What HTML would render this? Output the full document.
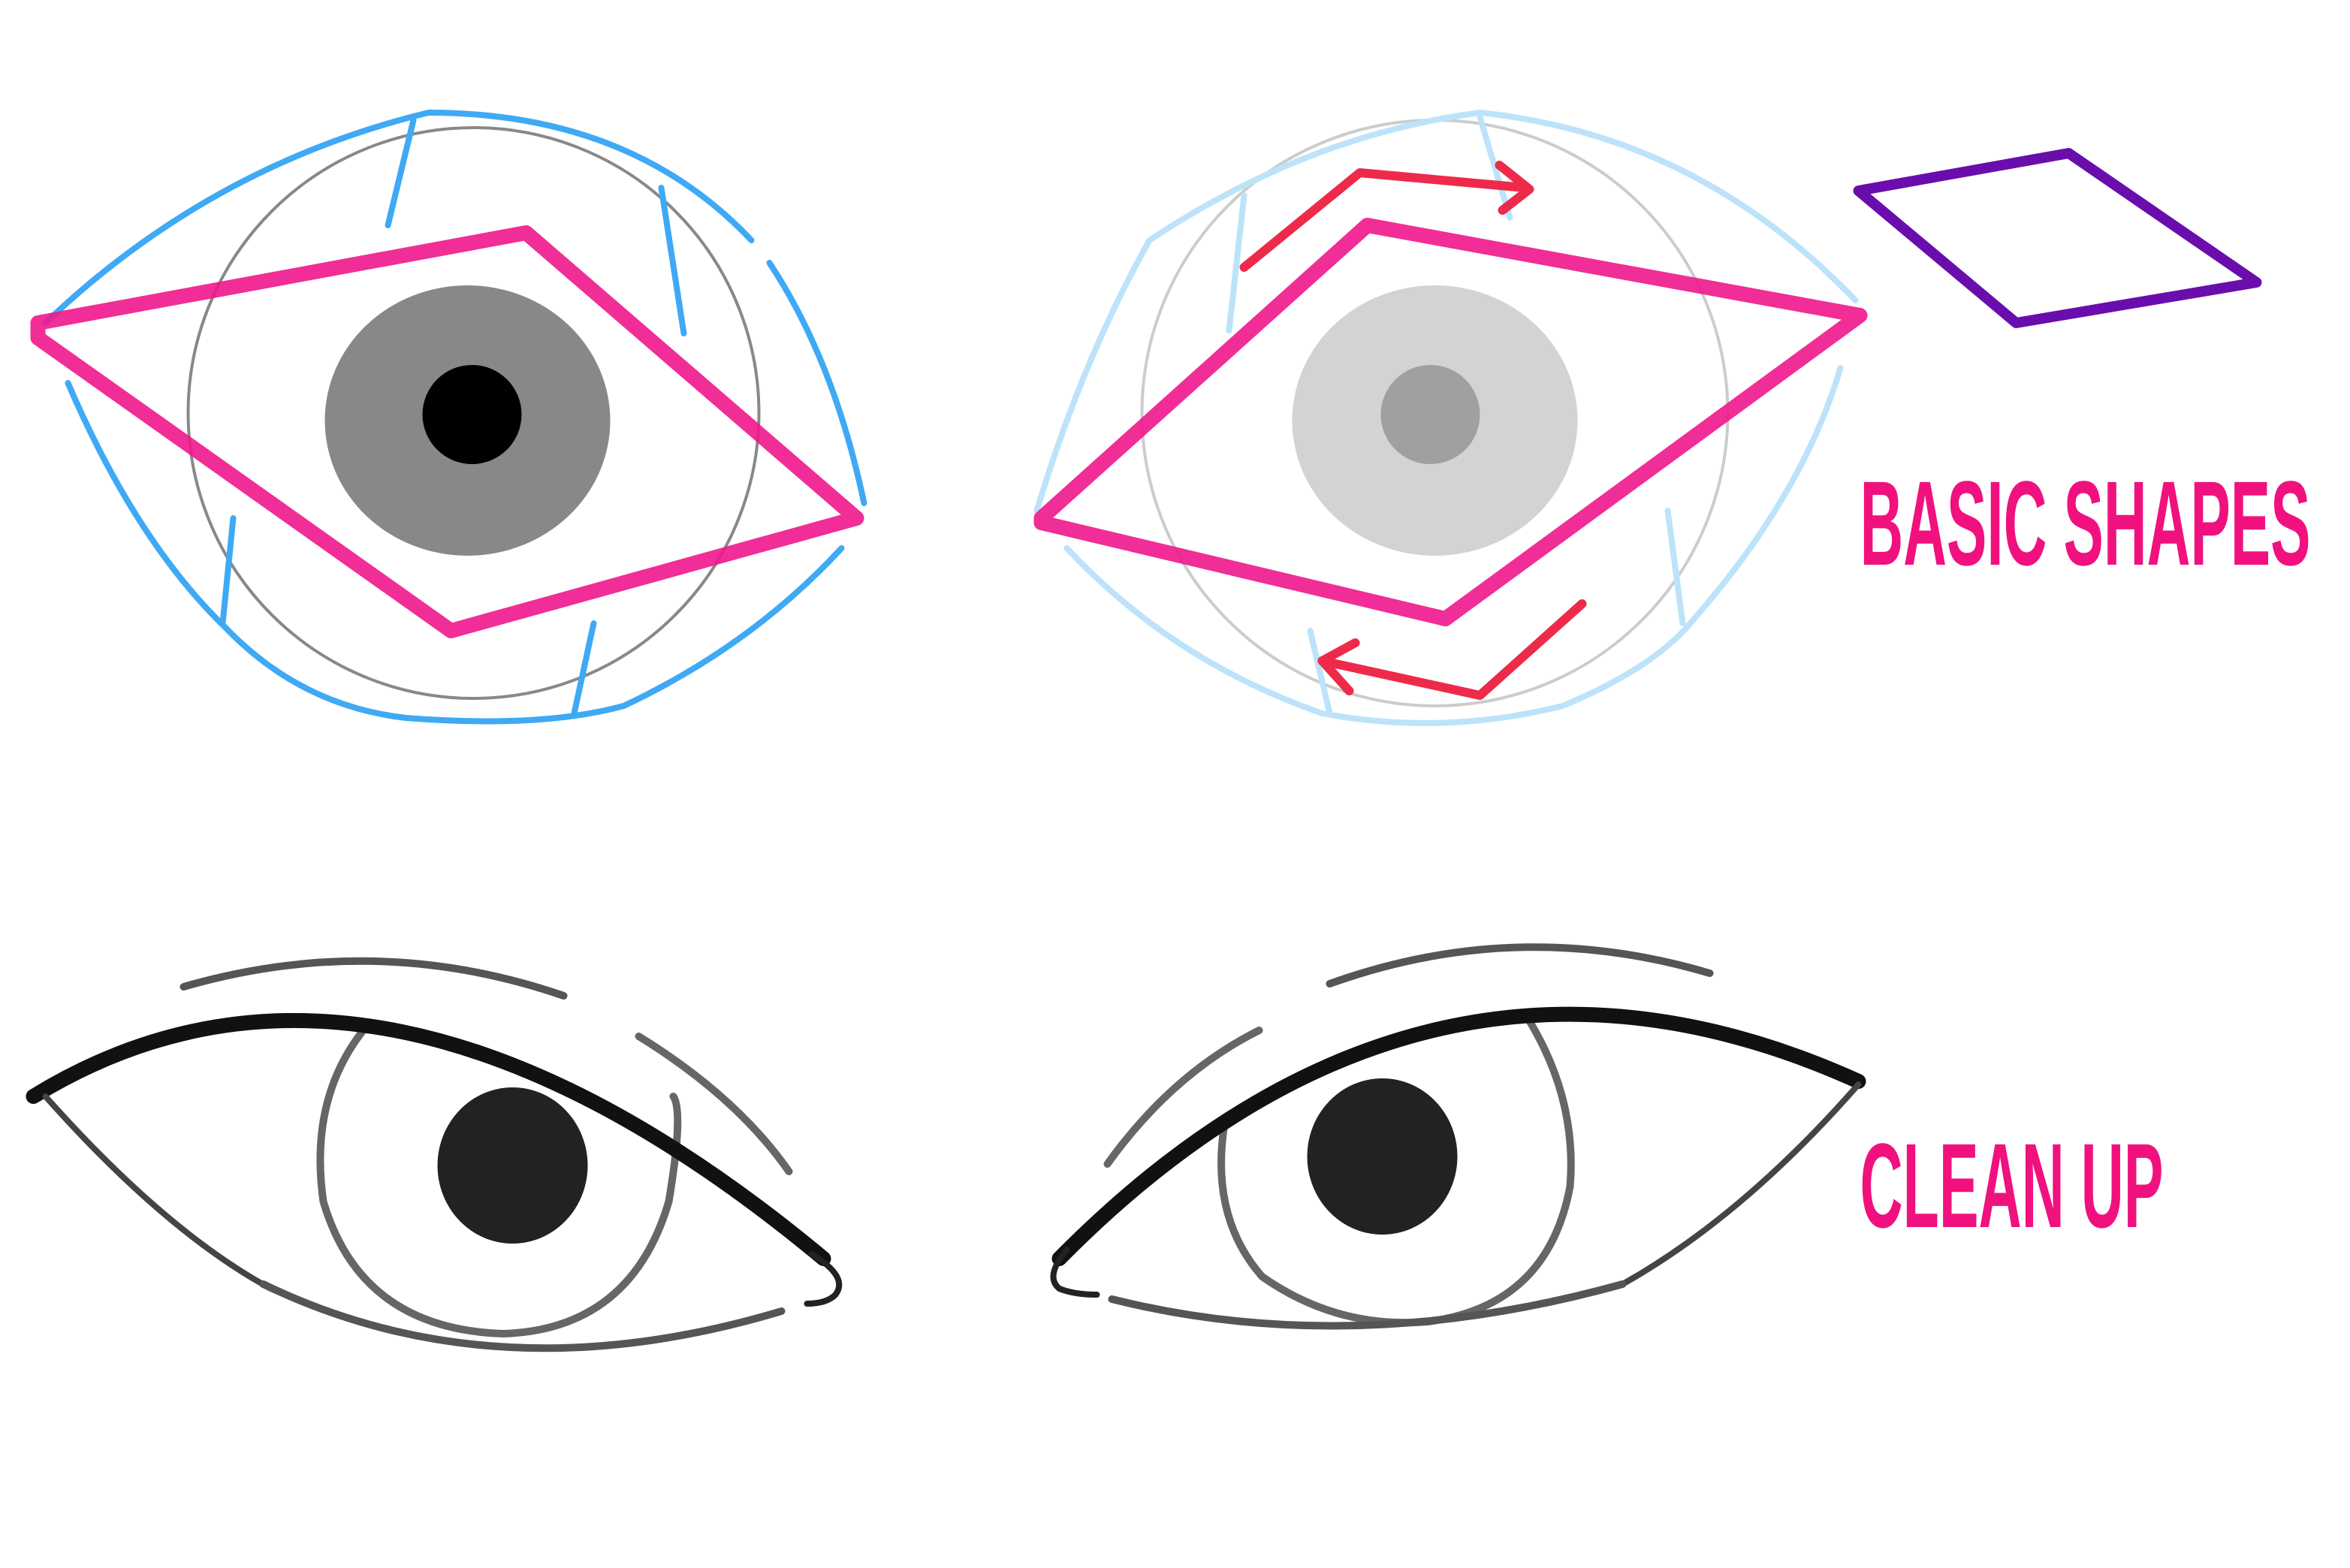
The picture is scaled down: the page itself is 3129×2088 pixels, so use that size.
<!DOCTYPE html>
<html><head><meta charset="utf-8"><style>
html,body{margin:0;padding:0;background:#fff;}
svg{display:block;}
</style></head><body>
<svg width="3129" height="2088" viewBox="0 0 1564 1044" xmlns="http://www.w3.org/2000/svg">
<rect width="1564" height="1044" fill="#fff"/>
<!-- TOP LEFT EYE -->
<g fill="none" stroke-linecap="round" stroke-linejoin="round">
<circle cx="315" cy="275" r="190" stroke="#888" stroke-width="2"/>
<ellipse cx="311" cy="280" rx="95" ry="90" fill="#888" stroke="none"/>
<circle cx="314" cy="276" r="33" fill="#000" stroke="none"/>
<g stroke="#3fa9f5" stroke-width="4">
<path d="M30 215 Q140 110 285 75 Q420 75 500 160"/>
<path d="M512 175 Q555 240 575 335"/>
<path d="M45 255 Q90 360 150 418 Q200 470 270 478 Q360 485 415 470 Q500 430 560 365"/>
<path d="M275 80 L258 150"/>
<path d="M440 125 L455 222"/>
<path d="M155 345 L148 415"/>
<path d="M395 415 L382 475"/>
</g>
<g stroke="#f0168c" stroke-width="10" opacity="0.9">
<path d="M25 215 L350 155 L570 345 L300 420 L25 225 Z"/>
</g>
</g>
<!-- TOP RIGHT EYE -->
<g fill="none" stroke-linecap="round" stroke-linejoin="round">
<circle cx="955" cy="275" r="195" stroke="#ccc" stroke-width="2"/>
<ellipse cx="955" cy="280" rx="95" ry="90" fill="#d3d3d3" stroke="none"/>
<circle cx="952" cy="276" r="33" fill="#a0a0a0" stroke="none"/>
<g stroke="#bde3fb" stroke-width="4">
<path d="M765 160 Q870 90 985 75 Q1130 90 1235 200"/>
<path d="M765 160 Q720 240 690 340"/>
<path d="M710 365 Q780 440 880 475 Q960 490 1040 470 Q1100 445 1125 415 Q1200 330 1225 245"/>
<path d="M828 130 L818 220"/>
<path d="M985 78 L1005 145"/>
<path d="M1110 340 L1120 415"/>
<path d="M872 420 L885 475"/>
</g>
<g stroke="#f0168c" stroke-width="10" opacity="0.9">
<path d="M693 345 L910 150 L1238 210 L962 412 L693 348 Z"/>
</g>
<g stroke="#ee2a4a" stroke-width="6">
<path d="M828 178 L905 115 L1015 125"/>
<path d="M998 110 L1018 126 L1000 140"/>
<path d="M1053 402 L985 463 L880 440"/>
<path d="M902 428 L880 440 L898 460"/>
</g>
<path d="M1237 127 L1377 102 L1502 188 L1342 215 Z" stroke="#6a0dad" stroke-width="7"/>
</g>
<text x="1238" y="376" font-family="'Liberation Sans Narrow','Liberation Sans',sans-serif" font-weight="bold" font-size="80" fill="#f0117f" textLength="300" lengthAdjust="spacingAndGlyphs">BASIC SHAPES</text>
<text x="1238" y="817" font-family="'Liberation Sans Narrow','Liberation Sans',sans-serif" font-weight="bold" font-size="80" fill="#f0117f" textLength="202" lengthAdjust="spacingAndGlyphs">CLEAN UP</text>
<!-- BOTTOM LEFT EYE -->
<g fill="none" stroke-linecap="round" stroke-linejoin="round">
<path d="M122 657 Q250 620 375 663" stroke="#555" stroke-width="5"/>
<path d="M425 690 Q490 730 525 780" stroke="#666" stroke-width="5"/>
<path d="M244 683 Q205 730 215 800 Q240 885 335 888 Q420 885 445 800 Q455 740 448 730" stroke="#666" stroke-width="5"/>
<ellipse cx="341" cy="776" rx="50" ry="52" fill="#222" stroke="none"/>
<path d="M22 730 Q250 590 548 838" stroke="#111" stroke-width="10"/>
<path d="M30 730 Q110 820 180 858" stroke="#444" stroke-width="4"/>
<path d="M175 855 Q330 930 520 873" stroke="#555" stroke-width="5"/>
<path d="M540 835 Q565 850 556 862 Q550 868 537 868" stroke="#222" stroke-width="4"/>
</g>
<!-- BOTTOM RIGHT EYE -->
<g fill="none" stroke-linecap="round" stroke-linejoin="round">
<path d="M885 655 Q1010 610 1138 648" stroke="#555" stroke-width="5"/>
<path d="M737 775 Q780 715 838 686" stroke="#666" stroke-width="5"/>
<path d="M815 748 Q805 810 840 850 Q890 885 950 880 Q1030 870 1045 790 Q1050 730 1015 675" stroke="#666" stroke-width="5"/>
<ellipse cx="920" cy="770" rx="50" ry="52" fill="#222" stroke="none"/>
<path d="M705 838 Q950 590 1237 720" stroke="#111" stroke-width="10"/>
<path d="M1237 722 Q1160 810 1080 855" stroke="#444" stroke-width="4"/>
<path d="M740 865 Q900 905 1080 855" stroke="#555" stroke-width="5"/>
<path d="M710 832 Q695 850 705 858 Q715 862 730 862" stroke="#222" stroke-width="4"/>
</g>
</svg>
</body></html>
